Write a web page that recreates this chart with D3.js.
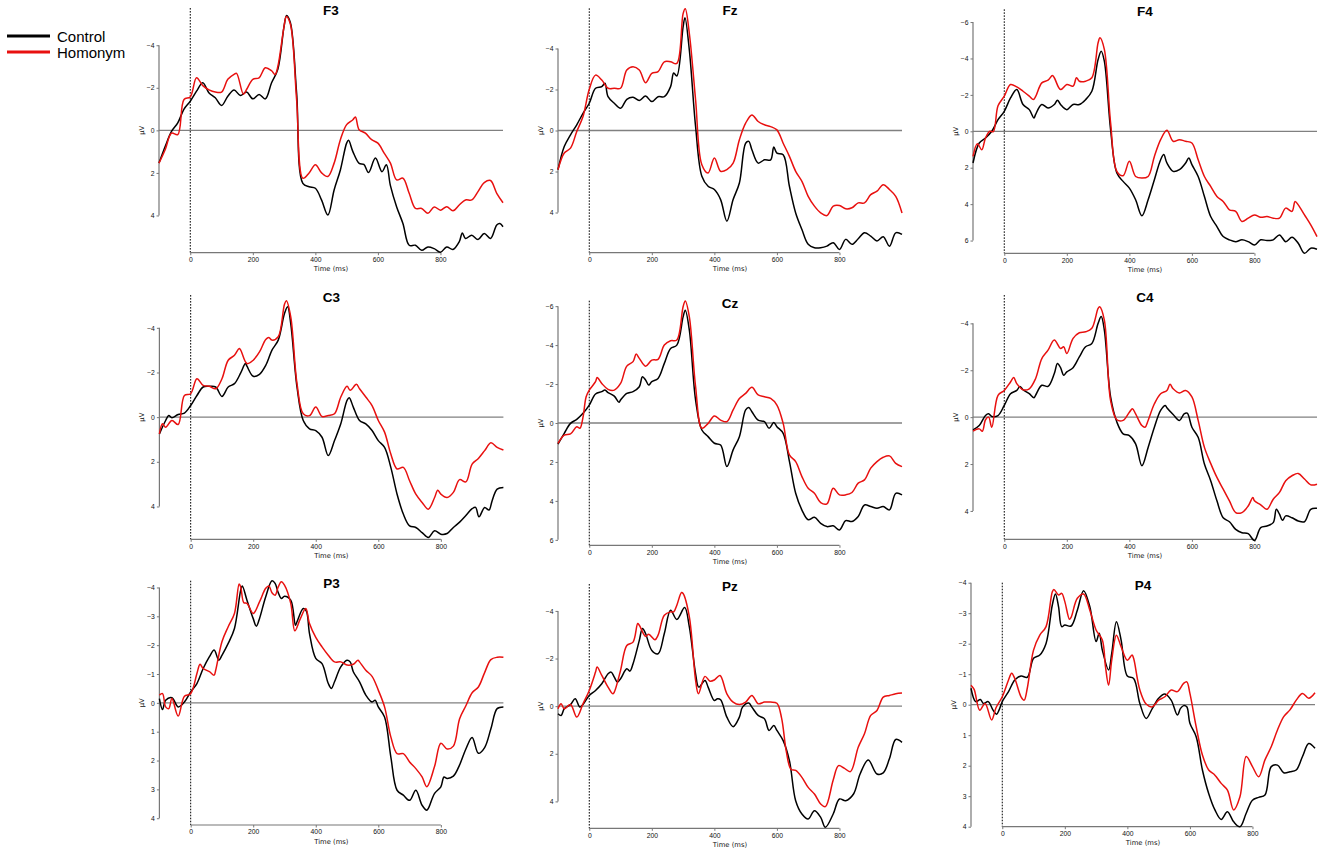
<!DOCTYPE html>
<html>
<head>
<meta charset="utf-8">
<script src="https://cdn.jsdelivr.net/npm/d3@7"></script>
<style>
  body { margin: 0; background: #fff; }
  svg { display: block; font-family: "DejaVu Sans", sans-serif; }
  .title { font-family: "Liberation Sans", Arial, sans-serif; font-weight: bold; font-size: 13.5px; }
  .legend text { font-family: "Liberation Sans", Arial, sans-serif; font-size: 15px; }
  .tick text { font-size: 6.8px; fill: #111; }
  .tick line { stroke: #777; }
  .axis-label { font-size: 6.8px; fill: #111; }
</style>
</head>
<body>
<svg id="chart" width="1325" height="853"></svg>
<script>
// ERP waveforms: [time (ms), amplitude (µV)], negative is up
const F3_control = [[-100,1.54],[-80,0.75],[-60,0.05],[-40,-0.35],[-20,-1.0],[0,-1.37],[20,-1.84],[40,-2.24],[60,-1.76],[80,-1.53],[100,-1.17],[120,-1.6],[140,-1.9],[160,-1.64],[180,-1.8],[200,-1.48],[220,-1.69],[240,-1.48],[260,-2.24],[280,-2.87],[300,-4.9],[308,-5.4],[320,-5.07],[340,-1.76],[360,2.49],[380,2.65],[400,2.72],[420,3.28],[440,3.98],[460,2.8],[480,1.86],[500,0.6],[506,0.47],[520,1.0],[540,1.55],[555,1.6],[570,1.98],[592,1.3],[613,1.94],[627,1.62],[640,2.6],[660,3.6],[680,4.38],[700,5.4],[720,5.4],[740,5.64],[760,5.48],[780,5.56],[800,5.73],[820,5.48],[840,5.6],[860,5.24],[870,4.82],[880,5.08],[900,4.93],[920,5.13],[940,4.85],[960,5.08],[980,4.45],[990,4.38],[1000,4.53]];
const F3_homonym = [[-100,1.54],[-80,0.9],[-60,0.13],[-40,0.2],[-20,-1.45],[0,-1.57],[20,-2.47],[40,-2.1],[60,-1.9],[80,-1.8],[100,-1.8],[120,-2.4],[140,-2.63],[148,-2.68],[170,-1.7],[180,-1.92],[200,-2.4],[220,-2.47],[240,-2.94],[260,-2.8],[271,-2.62],[280,-3.0],[300,-4.9],[307,-5.35],[320,-5.0],[340,-1.45],[360,2.25],[380,2.0],[400,1.62],[420,2.0],[440,2.17],[460,1.54],[480,0.44],[500,-0.27],[520,-0.5],[528,-0.63],[540,-0.03],[560,0.13],[580,0.44],[600,0.6],[620,1.07],[640,1.54],[660,2.33],[680,2.25],[700,2.96],[720,3.67],[740,3.67],[760,3.9],[780,3.6],[800,3.75],[820,3.59],[840,3.78],[860,3.51],[880,3.27],[900,3.27],[920,2.88],[940,2.46],[960,2.36],[980,2.96],[1000,3.4]];

const Fz_control = [[-100,1.91],[-80,0.78],[-60,0.21],[-40,-0.28],[-20,-0.84],[0,-1.33],[20,-2.06],[40,-2.14],[50,-2.3],[60,-1.65],[80,-1.33],[100,-1.09],[120,-1.52],[140,-1.62],[160,-1.46],[180,-1.68],[200,-1.41],[220,-1.65],[240,-1.65],[260,-2.14],[270,-2.8],[280,-2.66],[300,-5.05],[306,-5.5],[320,-3.92],[340,-0.19],[360,2.23],[380,2.72],[400,2.88],[420,3.37],[440,4.42],[460,3.37],[480,2.56],[500,0.62],[510,0.53],[520,0.94],[540,1.59],[560,1.43],[580,1.43],[590,0.81],[600,1.1],[620,1.18],[640,2.72],[660,4.02],[680,4.83],[700,5.55],[720,5.72],[740,5.72],[760,5.64],[780,5.47],[800,5.8],[820,5.31],[840,5.55],[860,5.28],[880,4.99],[900,5.15],[920,5.39],[940,5.18],[960,5.64],[980,4.99],[1000,5.07]];
const Fz_homonym = [[-100,1.91],[-80,1.1],[-60,0.86],[-40,0.05],[-20,-0.68],[0,-2.01],[20,-2.7],[40,-2.46],[60,-2.06],[80,-2.06],[100,-2.06],[120,-2.95],[140,-3.11],[160,-2.95],[180,-2.33],[200,-2.79],[220,-2.87],[240,-3.35],[260,-3.35],[280,-3.27],[300,-5.7],[307,-5.94],[320,-4.73],[340,-1.49],[360,1.67],[380,2.07],[400,1.34],[420,1.99],[440,1.91],[460,1.59],[480,0.45],[500,-0.36],[520,-0.76],[540,-0.44],[560,-0.28],[580,-0.19],[600,-0.03],[620,0.62],[640,1.26],[660,1.99],[680,2.48],[700,3.21],[720,3.69],[740,4.02],[760,4.15],[780,3.69],[800,3.66],[820,3.82],[840,3.77],[860,3.53],[880,3.53],[900,3.13],[920,2.96],[940,2.64],[960,2.88],[980,3.21],[1000,4.02]];

const F4_control = [[-100,1.74],[-80,0.64],[-60,0.37],[-40,0],[-20,-0.64],[0,-1.1],[20,-1.83],[40,-2.29],[60,-1.47],[80,-1.19],[95,-0.73],[100,-0.92],[120,-1.47],[140,-1.28],[160,-1.47],[170,-1.71],[180,-1.47],[200,-1.19],[220,-1.47],[240,-1.47],[260,-1.74],[280,-2.2],[300,-3.94],[310,-4.4],[320,-3.85],[340,-0.09],[360,2.29],[380,2.75],[400,3.12],[420,3.76],[440,4.64],[460,3.76],[480,2.66],[500,1.56],[510,1.28],[520,1.74],[540,2.2],[560,2.11],[580,1.74],[590,1.47],[600,1.83],[620,2.48],[640,3.58],[660,4.68],[680,5.23],[700,5.78],[720,5.96],[740,6.06],[760,5.96],[780,6.06],[800,6.24],[820,5.96],[840,6.0],[860,5.96],[880,5.69],[900,6.06],[920,5.82],[940,6.15],[960,6.7],[980,6.42],[1000,6.48]];
const F4_homonym = [[-100,1.38],[-86,0.68],[-72,1.01],[-60,0.37],[-46,0],[-35,0.02],[-20,-1.4],[0,-1.93],[20,-2.57],[40,-2.44],[60,-2.2],[80,-1.93],[93,-1.74],[100,-1.9],[120,-2.66],[140,-2.81],[154,-3.06],[160,-2.94],[180,-2.29],[200,-2.57],[220,-2.48],[231,-2.94],[240,-2.75],[260,-2.75],[280,-2.94],[300,-4.86],[306,-5.14],[320,-4.5],[340,-0.46],[360,2.2],[380,2.44],[400,1.65],[420,2.48],[440,2.57],[460,2.48],[480,1.38],[500,0.46],[520,-0.06],[540,0.55],[560,0.46],[580,0.55],[600,0.64],[620,1.56],[640,2.48],[660,3.03],[680,3.58],[700,3.85],[720,4.31],[740,4.4],[760,4.95],[780,4.77],[800,4.59],[820,4.72],[840,4.68],[860,4.77],[880,4.77],[900,4.22],[920,4.4],[930,3.85],[940,4.04],[960,4.59],[980,5.14],[1000,5.78]];

const C3_control = [[-100,0.75],[-80,0.15],[-70,-0.07],[-60,0.03],[-40,-0.12],[-20,-0.18],[0,-0.52],[20,-0.97],[40,-1.35],[60,-1.38],[80,-1.35],[100,-0.93],[120,-1.35],[140,-1.5],[160,-1.98],[175,-2.4],[180,-2.28],[200,-1.83],[220,-1.92],[240,-2.32],[260,-3.0],[280,-3.45],[300,-4.64],[310,-4.94],[320,-4.19],[340,-1.35],[360,0.15],[380,0.52],[400,0.6],[420,0.9],[440,1.72],[460,1.05],[480,0.3],[500,-0.75],[507,-0.87],[520,-0.45],[540,0.15],[560,0.3],[580,0.6],[600,1.05],[620,1.35],[640,2.25],[660,3.45],[680,4.34],[700,4.87],[720,4.94],[740,5.17],[760,5.39],[780,5.09],[800,5.24],[820,5.21],[840,4.94],[860,4.7],[880,4.4],[900,4.1],[911,4.04],[922,4.46],[940,4.05],[954,4.16],[964,3.74],[980,3.22],[1000,3.15]];
const C3_homonym = [[-100,0.75],[-90,0.3],[-80,0.45],[-60,0.15],[-40,0.33],[-20,-0.97],[0,-1.05],[20,-1.72],[40,-1.42],[60,-1.38],[80,-1.27],[100,-1.72],[120,-2.55],[140,-2.77],[155,-3.07],[160,-3.0],[180,-2.4],[200,-2.55],[220,-2.92],[240,-3.48],[250,-3.57],[260,-3.45],[280,-3.6],[300,-5.06],[306,-5.21],[320,-4.49],[340,-1.5],[360,-0.15],[380,-0.07],[400,-0.45],[420,-0.03],[440,-0.07],[460,-0.15],[480,-0.9],[500,-1.38],[510,-1.2],[530,-1.47],[540,-1.27],[560,-0.9],[580,-0.52],[600,0.15],[620,0.67],[640,1.65],[660,2.32],[680,2.25],[700,2.85],[720,3.45],[740,3.82],[760,4.12],[780,3.6],[790,3.27],[800,3.45],[820,3.6],[840,3.37],[860,2.8],[880,2.9],[900,2.1],[920,1.85],[940,1.5],[960,1.15],[980,1.35],[1000,1.47]];

const Cz_control = [[-100,1.08],[-80,0.53],[-60,0.02],[-40,-0.19],[-20,-0.5],[0,-0.92],[20,-1.49],[40,-1.61],[50,-1.69],[60,-1.56],[80,-1.38],[95,-1.06],[100,-1.18],[120,-1.52],[140,-1.61],[160,-1.86],[170,-2.38],[180,-2.21],[190,-1.95],[200,-2.12],[220,-2.29],[240,-3.06],[260,-3.83],[280,-4.0],[300,-5.45],[307,-5.79],[320,-4.77],[340,-1.18],[360,0.36],[380,0.7],[400,1.04],[420,1.13],[440,2.24],[460,1.38],[480,0.7],[500,-0.67],[510,-0.8],[520,-0.58],[540,-0.15],[560,-0.07],[575,0.27],[590,-0.02],[600,0.19],[620,0.53],[640,1.97],[660,3.61],[680,4.47],[700,4.97],[720,4.84],[740,5.15],[760,5.32],[780,5.28],[800,5.49],[820,5.01],[840,5.06],[860,4.8],[880,4.21],[900,4.29],[920,4.38],[940,4.29],[960,4.46],[980,3.61],[1000,3.69]];
const Cz_homonym = [[-100,1.04],[-80,0.62],[-60,0.56],[-40,0.19],[-30,0.27],[-20,-0.3],[-10,-1.35],[0,-1.69],[20,-2.12],[25,-2.34],[40,-2.03],[60,-1.73],[80,-1.69],[100,-2.03],[120,-2.92],[140,-3.15],[150,-3.54],[160,-3.32],[180,-2.92],[200,-3.23],[220,-3.27],[240,-4.0],[260,-4.22],[280,-4.26],[300,-5.97],[307,-6.27],[320,-5.45],[340,-1.86],[360,0.27],[380,0.02],[400,-0.36],[420,-0.15],[440,-0.07],[460,-0.67],[480,-1.26],[500,-1.52],[520,-1.83],[540,-1.44],[560,-1.35],[580,-1.26],[600,-0.92],[620,0.02],[640,1.64],[660,1.98],[680,2.75],[700,3.35],[720,3.61],[740,4.09],[760,4.15],[780,3.35],[800,3.69],[820,3.69],[840,3.57],[860,3.09],[880,2.92],[900,2.32],[920,1.98],[940,1.76],[960,1.69],[980,2.07],[1000,2.24]];

const C4_control = [[-100,0.54],[-80,0.36],[-60,-0.07],[-50,-0.14],[-40,-0.03],[-20,-0.07],[0,-0.5],[20,-1.0],[40,-1.14],[50,-1.31],[60,-1.17],[80,-1.0],[95,-0.83],[100,-0.93],[120,-1.36],[140,-1.31],[160,-1.86],[170,-2.29],[180,-2.11],[190,-1.79],[200,-1.93],[220,-2.11],[240,-2.57],[260,-3.0],[280,-3.14],[300,-4.0],[310,-4.29],[320,-3.71],[340,-0.86],[360,0.21],[380,0.71],[400,0.79],[420,1.14],[440,2.07],[460,1.29],[480,0.43],[500,-0.29],[515,-0.5],[520,-0.4],[540,-0.11],[560,0.14],[575,-0.14],[585,-0.17],[600,0.43],[620,0.86],[640,2.0],[660,2.71],[680,3.57],[700,4.29],[720,4.46],[740,4.79],[760,4.93],[780,4.97],[800,5.26],[820,4.71],[840,4.64],[860,4.5],[870,3.93],[880,4.14],[890,4.4],[900,4.21],[920,4.29],[940,4.43],[960,4.46],[980,3.93],[1000,3.89]];
const C4_homonym = [[-100,0.6],[-80,0.5],[-70,0.6],[-60,0.11],[-50,0],[-40,0.43],[-20,-0.93],[0,-1.14],[20,-1.5],[30,-1.69],[40,-1.43],[60,-1.17],[80,-1.21],[100,-1.64],[120,-2.5],[140,-2.86],[160,-3.29],[180,-2.93],[190,-3.0],[200,-2.71],[220,-3.36],[240,-3.6],[260,-3.64],[280,-3.79],[300,-4.64],[305,-4.71],[320,-4.14],[340,-0.71],[360,0.11],[380,0.14],[400,-0.21],[410,-0.36],[420,-0.14],[440,0.36],[450,0.43],[460,0.14],[480,-0.57],[500,-1.0],[520,-1.14],[530,-1.4],[540,-1.21],[560,-1.03],[580,-1.14],[600,-0.86],[620,0.14],[640,1.29],[660,1.97],[680,2.57],[700,3.07],[720,3.57],[740,4.07],[760,4.07],[780,3.79],[795,3.43],[800,3.57],[820,3.74],[840,3.93],[860,3.5],[880,3.21],[900,2.71],[920,2.5],[940,2.4],[960,2.64],[980,2.89],[1000,2.86]];

const P3_control = [[-100,-0.15],[-90,0.23],[-80,-0.09],[-60,-0.18],[-40,0.14],[-20,-0.03],[0,-0.38],[20,-0.67],[40,-1.19],[60,-1.6],[75,-1.83],[90,-1.48],[100,-1.65],[120,-2.06],[140,-2.58],[160,-3.91],[165,-4.05],[180,-3.56],[200,-2.92],[210,-2.66],[220,-2.92],[240,-3.68],[260,-4.23],[270,-4.14],[280,-3.82],[290,-3.62],[300,-3.7],[320,-3.56],[335,-2.69],[340,-2.81],[360,-3.27],[370,-3.18],[380,-2.4],[400,-1.54],[420,-1.36],[440,-0.67],[450,-0.5],[460,-0.73],[480,-1.25],[500,-1.48],[510,-1.42],[520,-1.08],[540,-0.73],[560,-0.27],[580,-0.03],[590,-0.09],[600,0.14],[620,0.49],[640,1.87],[660,3.03],[680,3.2],[700,3.38],[720,3.03],[740,3.55],[755,3.72],[760,3.66],[780,3.14],[800,2.91],[810,2.57],[820,2.62],[840,2.54],[860,2.15],[880,1.6],[900,1.2],[920,1.75],[940,1.55],[960,0.9],[980,0.2],[1000,0.14]];
const P3_homonym = [[-100,-0.27],[-90,-0.32],[-80,0.14],[-70,0.2],[-60,-0.15],[-40,0.46],[-20,-0.23],[0,-0.32],[20,-1.02],[30,-1.34],[40,-1.19],[60,-1.08],[75,-0.96],[80,-1.13],[100,-2.12],[120,-2.64],[140,-3.1],[155,-4.12],[160,-4.02],[170,-3.47],[180,-3.45],[200,-3.1],[220,-3.5],[240,-3.97],[250,-4.05],[260,-3.82],[270,-3.73],[280,-4.02],[290,-4.2],[300,-4.08],[320,-3.45],[333,-2.5],[350,-2.9],[368,-3.27],[380,-2.75],[400,-2.27],[420,-1.94],[440,-1.65],[460,-1.42],[480,-1.42],[500,-1.31],[520,-1.34],[535,-1.48],[540,-1.42],[560,-1.13],[580,-0.92],[600,-0.44],[620,0.14],[640,1.18],[660,1.76],[680,1.76],[700,2.05],[720,2.28],[740,2.57],[755,2.91],[780,2.2],[800,1.4],[820,1.6],[840,1.5],[860,0.55],[880,0.1],[900,-0.35],[920,-0.55],[940,-1.05],[960,-1.5],[980,-1.58],[1000,-1.58]];

const Pz_control = [[-100,0.32],[-90,0.39],[-80,0.11],[-60,-0.07],[-45,-0.31],[-30,0.04],[-20,-0.07],[0,-0.45],[20,-0.66],[40,-0.94],[60,-1.36],[70,-1.43],[80,-1.22],[90,-1.01],[100,-1.15],[120,-1.57],[130,-1.47],[140,-1.78],[160,-2.76],[170,-3.26],[180,-3.05],[200,-2.34],[220,-2.2],[240,-3.05],[260,-4.03],[280,-3.64],[305,-4.14],[320,-3.33],[340,-1.36],[350,-0.8],[370,-1.08],[380,-0.8],[400,-0.24],[410,-0.31],[420,-0.27],[440,0.46],[460,0.86],[480,0.46],[490,0.04],[510,-0.13],[520,0.04],[540,0.39],[560,0.53],[575,1.02],[590,0.81],[600,1.02],[620,1.45],[640,2.29],[660,3.97],[680,4.53],[700,4.74],[720,4.39],[740,4.67],[755,5.09],[780,4.53],[800,3.9],[820,3.97],[845,3.69],[866,2.85],[892,2.26],[920,2.85],[940,2.8],[960,2.2],[980,1.4],[1000,1.52]];
const Pz_homonym = [[-100,0.11],[-90,-0.1],[-80,0.11],[-60,-0.07],[-40,0.46],[-20,-0.1],[0,-0.66],[20,-1.43],[25,-1.64],[40,-1.29],[60,-0.8],[75,-0.52],[80,-0.59],[100,-1.5],[120,-2.55],[140,-2.69],[155,-3.47],[160,-3.4],[180,-2.93],[190,-3.02],[210,-2.79],[220,-2.98],[240,-3.82],[260,-3.96],[270,-3.96],[280,-4.24],[295,-4.77],[300,-4.73],[320,-3.75],[340,-1.08],[349,-0.52],[370,-1.25],[386,-1.05],[400,-1.1],[418,-1.29],[440,-0.52],[460,-0.17],[480,-0.07],[500,-0.17],[520,-0.45],[540,-0.1],[560,-0.17],[580,-0.17],[600,-0.12],[615,0.5],[630,1.9],[645,2.65],[660,2.7],[680,2.99],[700,3.41],[720,3.69],[740,4.11],[755,4.22],[780,3.1],[797,2.5],[815,2.6],[835,2.75],[860,1.73],[880,1.16],[900,0.39],[920,0.18],[940,-0.38],[960,-0.45],[980,-0.52],[1000,-0.55]];

const P4_control = [[-100,-0.54],[-85,-0.1],[-70,-0.17],[-60,-0.04],[-45,-0.1],[-30,0.17],[-18,0.31],[-10,0.17],[0,-0.1],[20,-0.43],[40,-0.81],[60,-0.94],[80,-0.9],[100,-1.52],[120,-1.63],[140,-2.01],[160,-3.27],[170,-3.63],[180,-3.21],[190,-2.56],[200,-2.61],[220,-2.58],[240,-3.1],[260,-3.74],[280,-3.21],[300,-2.07],[310,-2.34],[320,-1.79],[340,-1.14],[350,-1.68],[365,-2.72],[380,-2.12],[400,-0.94],[420,-0.86],[440,-0.04],[460,0.45],[480,0.12],[500,-0.21],[520,-0.35],[540,-0.15],[560,0.34],[570,0.12],[580,0.03],[590,0.07],[600,0.61],[620,1.05],[640,2.14],[660,2.91],[680,3.45],[700,3.76],[720,3.51],[740,3.84],[760,4.0],[780,3.56],[800,3.13],[820,3.04],[840,2.96],[860,2.03],[880,1.98],[900,2.23],[920,2.2],[940,2.14],[960,1.7],[980,1.27],[1000,1.43]];
const P4_homonym = [[-100,-0.64],[-90,-0.5],[-72,0.18],[-55,-0.04],[-34,0.5],[-20,0.1],[0,-0.26],[20,-0.81],[30,-1.03],[40,-0.86],[60,-0.26],[70,-0.15],[80,-0.54],[100,-1.79],[120,-2.28],[140,-2.56],[160,-3.7],[165,-3.78],[180,-3.6],[190,-3.65],[200,-3.38],[215,-2.8],[220,-2.86],[240,-3.49],[260,-3.63],[280,-3.1],[300,-2.45],[320,-2.12],[330,-1.25],[340,-0.64],[350,-1.46],[365,-2.28],[380,-1.9],[400,-1.46],[415,-1.63],[420,-1.52],[440,-0.48],[460,-0.02],[480,0.07],[500,-0.15],[520,-0.26],[540,-0.48],[560,-0.43],[580,-0.7],[590,-0.75],[600,-0.37],[620,0.72],[640,1.65],[660,2.14],[680,2.31],[700,2.58],[720,2.8],[740,3.45],[760,3.02],[780,1.7],[800,2.03],[820,2.36],[840,1.81],[860,1.38],[880,0.83],[900,0.39],[920,0.17],[940,-0.15],[960,-0.37],[980,-0.21],[1000,-0.39]];

const channels = ['F3', 'Fz', 'F4', 'C3', 'Cz', 'C4', 'P3', 'Pz', 'P4'];
const conditions = ['Control', 'Homonym'];
const channelData = {
  F3: [F3_control, F3_homonym], Fz: [Fz_control, Fz_homonym], F4: [F4_control, F4_homonym],
  C3: [C3_control, C3_homonym], Cz: [Cz_control, Cz_homonym], C4: [C4_control, C4_homonym],
  P3: [P3_control, P3_homonym], Pz: [Pz_control, Pz_homonym], P4: [P4_control, P4_homonym],
};
// symmetric y limits (µV) and y tick values per channel
const yLimits = [5.75, 5.96, 6.7, 5.47, 6.28, 5.21, 4.235, 5.13, 4.0];
const yTickValues = [
  [-4, -2, 0, 2, 4], [-4, -2, 0, 2, 4], [-6, -4, -2, 0, 2, 4, 6],
  [-4, -2, 0, 2, 4], [-6, -4, -2, 0, 2, 4, 6], [-4, -2, 0, 2, 4],
  [-4, -3, -2, -1, 0, 1, 2, 3, 4], [-4, -2, 0, 2, 4], [-4, -3, -2, -1, 0, 1, 2, 3, 4],
];
const timeDomain = [-100, 1000];
const xTickValues = [0, 200, 400, 600, 800];

// Layout of the 3x3 grid (pixels)
const panelLeft = [159, 558, 973, 159.4, 558, 973, 159.4, 558, 971];
const panelTop = [8, 8.3, 9.3, 295, 300.7, 295, 580.7, 584, 582.7];
const panelBottom = [252.7, 252.7, 253.3, 539.3, 545.3, 539.3, 825, 828.3, 826.7];
const panelWidth = 344;
const colors = ['#000000', '#e8100f'];

const svg = d3.select('#chart');
const fmt = d => (d < 0 ? '\u2212' + Math.abs(d) : String(d));

channels.forEach((ch, i) => {
  const left = panelLeft[i];
  const top = panelTop[i];
  const bottom = panelBottom[i];
  const lim = yLimits[i];

  const x = d3.scaleLinear().domain(timeDomain).range([left, left + panelWidth]);
  // negative up, like the original ERP plots
  const y = d3.scaleLinear().domain([-lim, lim]).range([top, bottom]);

  const g = svg.append('g').attr('class', 'panel');

  // zero line
  g.append('line')
    .attr('x1', x(timeDomain[0])).attr('x2', x(timeDomain[1]))
    .attr('y1', y(0)).attr('y2', y(0))
    .attr('stroke', '#808080').attr('stroke-width', 1.3);

  // stimulus onset
  g.append('line')
    .attr('x1', x(0)).attr('x2', x(0))
    .attr('y1', top).attr('y2', bottom)
    .attr('stroke', '#000').attr('stroke-width', 1)
    .attr('stroke-dasharray', '1.6,1.4');

  // y axis, spine trimmed to the outer ticks
  const yTicks = yTickValues[i];
  const yAxis = g.append('g')
    .attr('transform', `translate(${left},0)`)
    .call(d3.axisLeft(y).tickValues(yTicks).tickFormat(fmt).tickSize(2.5).tickPadding(2));
  yAxis.select('.domain').remove();
  yAxis.append('line')
    .attr('y1', y(yTicks[0])).attr('y2', y(yTicks[yTicks.length - 1]))
    .attr('stroke', '#777').attr('stroke-width', 1.2);

  // x axis, spine from 0 to 800 ms
  const xAxis = g.append('g')
    .attr('transform', `translate(0,${bottom})`)
    .call(d3.axisBottom(x).tickValues(xTickValues).tickFormat(fmt).tickSize(2.5).tickPadding(2));
  xAxis.select('.domain').remove();
  xAxis.append('line')
    .attr('x1', x(xTickValues[0])).attr('x2', x(xTickValues[xTickValues.length - 1]))
    .attr('stroke', '#777').attr('stroke-width', 1.2);

  // axis labels
  g.append('text')
    .attr('class', 'axis-label')
    .attr('x', left + panelWidth / 2).attr('y', bottom + 18.5)
    .attr('text-anchor', 'middle')
    .text('Time (ms)');
  g.append('text')
    .attr('class', 'axis-label')
    .attr('transform', `translate(${left - 15},${y(0)}) rotate(-90)`)
    .attr('text-anchor', 'middle')
    .text('µV');

  // waveforms
  const line = d3.line()
    .x(d => x(d[0]))
    .y(d => y(d[1]))
    .curve(d3.curveCatmullRom.alpha(0.5));

  channelData[ch].forEach((series, k) => {
    g.append('path')
      .datum(series)
      .attr('d', line)
      .attr('fill', 'none')
      .attr('stroke', colors[k])
      .attr('stroke-width', 1.5)
      .attr('stroke-linejoin', 'round');
  });

  // channel title
  g.append('text')
    .attr('class', 'title')
    .attr('x', left + panelWidth / 2).attr('y', top + 7)
    .attr('text-anchor', 'middle')
    .text(ch);
});

// legend
const legend = svg.append('g').attr('class', 'legend');
conditions.forEach((name, k) => {
  const ly = 36 + k * 16;
  legend.append('line')
    .attr('x1', 7).attr('x2', 50)
    .attr('y1', ly).attr('y2', ly)
    .attr('stroke', colors[k]).attr('stroke-width', 3);
  legend.append('text')
    .attr('x', 57).attr('y', ly + 5.5)
    .text(name);
});
</script>
</body>
</html>
